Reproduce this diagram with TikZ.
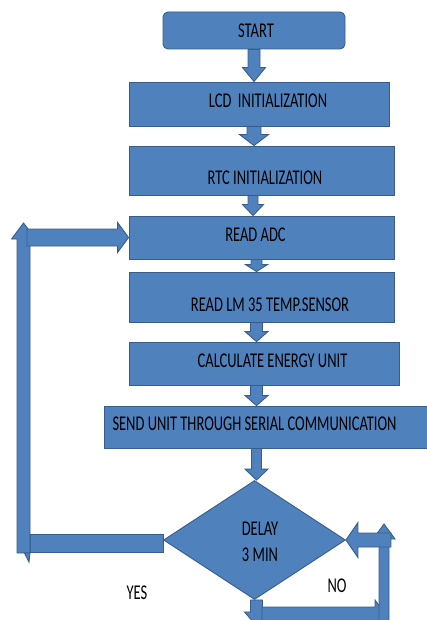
\documentclass[tikz,border=0pt]{standalone}
\usepackage{fontspec}
\setmainfont{Carlito}[FakeStretch=0.69]
\usetikzlibrary{calc,shapes.geometric}
\definecolor{bfill}{RGB}{79,129,189}
\definecolor{bline}{RGB}{56,93,138}
\tikzset{
  blk/.style={fill=bfill,draw=bline,line width=0.9pt,line join=miter},
  box/.style={blk,rectangle,inner sep=0pt},
  txt/.style={inner sep=0pt,text=black,font=\fontsize{21}{26}\selectfont,align=center},
}
% block arrow: from, to, shaft half width, head half width, head length
\newcommand\barrow[5]{%
  \coordinate (bah) at ($(#2)!#5!(#1)$);
  \filldraw[blk] ($(#1)!#3!90:(#2)$) -- ($(bah)!#3!90:(#2)$) -- ($(bah)!#4!90:(#2)$) -- (#2)
    -- ($(bah)!#4!-90:(#2)$) -- ($(bah)!#3!-90:(#2)$) -- ($(#1)!#3!-90:(#2)$) -- cycle;}
% block bar without head: from, to, half width
\newcommand\bbar[3]{%
  \filldraw[blk] ($(#1)!#3!90:(#2)$) -- ($(#2)!#3!-90:(#1)$) -- ($(#2)!#3!90:(#1)$) -- ($(#1)!#3!-90:(#2)$) -- cycle;}
\begin{document}
\begin{tikzpicture}[x=1pt,y=-1pt]
\useasboundingbox (0,0) rectangle (427,620);
\clip (0,0) rectangle (427,620);

% boxes
\node[box,rounded corners=5pt,minimum width=182pt,minimum height=37pt] (start) at (254,30.5) {};
\node[box,minimum width=260pt,minimum height=44pt] (lcd) at (259,104) {};
\node[box,minimum width=265pt,minimum height=49pt] (rtc) at (261.5,170.5) {};
\node[box,minimum width=265pt,minimum height=43pt] (adc) at (261.5,237.5) {};
\node[box,minimum width=265pt,minimum height=50pt] (lm) at (261.5,297) {};
\node[box,minimum width=270pt,minimum height=43pt] (calc) at (264,363.5) {};
\node[box,minimum width=336pt,minimum height=42pt] (send) at (272,427) {};
\node[blk,diamond,inner sep=0pt,minimum width=182pt,minimum height=119pt] (dm) at (254.5,540) {};

% texts
\node[txt] (tstart) at (256,31) {START};
\node[txt] (tlcd) at (268,101) {LCD\ \ INITIALIZATION};
\node[txt] (trtc) at (265,178) {RTC INITIALIZATION};
\node[txt] (tadc) at (255.5,235) {READ ADC};
\node[txt] (tlm) at (270,305) {READ LM 35 TEMP.SENSOR};
\node[txt] (tcalc) at (272.5,361) {CALCULATE ENERGY UNIT};
\node[txt] (tsend) at (254.5,424) {SEND UNIT THROUGH SERIAL COMMUNICATION};
\node[txt] (tdm) at (260,542) {DELAY\\3 MIN};
\node[txt] (tyes) at (137,593) {YES};
\node[txt] (tno) at (337,586) {NO};

% main flow arrows
\coordinate (ax) at (256.5,0);
\coordinate (a1) at (start.south);
\coordinate (a2) at (start.south |- lcd.north);
\barrow{a1}{a2}{6pt}{11.5pt}{14pt}
\coordinate (b1) at (start.south |- lcd.south);
\coordinate (b2) at (start.south |- rtc.north);
\barrow{b1}{b2}{7pt}{14.5pt}{11pt}
\coordinate (c1) at ($(start.south |- rtc.south)+(-1,0)$);
\coordinate (c2) at ($(start.south |- adc.north)+(-1,0)$);
\barrow{c1}{c2}{5pt}{10.5pt}{11pt}
\coordinate (d1) at (ax |- adc.south);
\coordinate (d2) at (ax |- lm.north);
\barrow{d1}{d2}{5.5pt}{11pt}{7pt}
\coordinate (e1) at (ax |- lm.south);
\coordinate (e2) at (ax |- calc.north);
\barrow{e1}{e2}{6pt}{11.5pt}{10pt}
\coordinate (f1) at (ax |- calc.south);
\coordinate (f2) at (ax |- send.north);
\barrow{f1}{f2}{6pt}{11.5pt}{10pt}
\coordinate (g1) at (ax |- send.south);
\coordinate (g2) at (ax |- dm.north);
\barrow{g1}{g2}{5pt}{11.5pt}{11pt}

% YES loop
\coordinate (yC) at (23.5,553);
\coordinate (yD) at (23.5,223);
\coordinate (yA) at ($(dm.west)+(0,3)$);
\coordinate (yB) at ($(yA -| yC)+(6.5,0)$);
\bbar{yA}{yB}{9pt}
\barrow{yC}{yD}{6.5pt}{12pt}{16pt}
\filldraw[blk] (24.5,553) -- (30,553) -- (29,562) -- cycle;
\coordinate (yE) at ($(adc.west -| yC)+(3.5,0)$);
\barrow{yE}{adc.west}{8.5pt}{15pt}{11pt}

% NO loop
\coordinate (nA) at (ax |- dm.south);
\coordinate (nB) at ($(nA)+(0,26)$);
\barrow{nA}{nB}{6pt}{12pt}{14pt}
\coordinate (nC) at (262,615);
\coordinate (nD) at (386,615);
\barrow{nC}{nD}{8pt}{15pt}{11pt}
\coordinate (nE) at (384,640);
\coordinate (nF) at (384,524);
\barrow{nE}{nF}{5pt}{11pt}{15pt}
\coordinate (nG) at ($(dm.east)+(45,0)$);
\barrow{nG}{dm.east}{7pt}{17.5pt}{12pt}
\end{tikzpicture}
\end{document}
